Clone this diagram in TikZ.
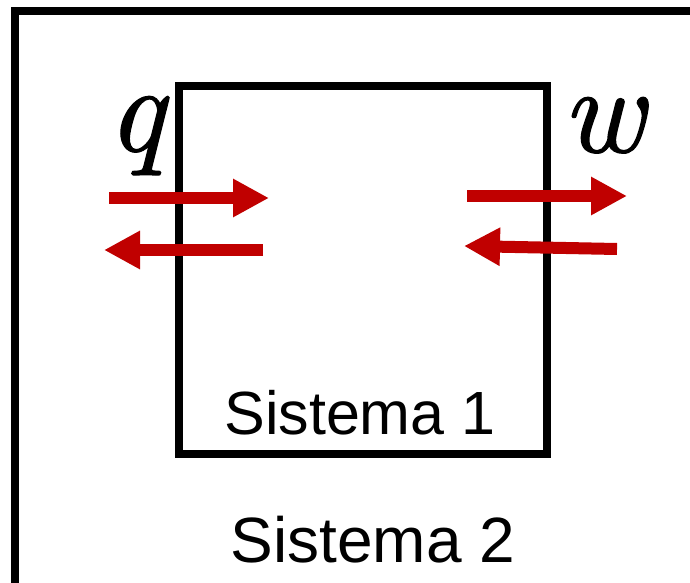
\documentclass[tikz,border=0pt]{standalone}
\usepackage{fontspec}
\setsansfont{Liberation Sans}
\newfontfamily\varfont{lmroman10-italic.otf}[FakeBold=1]
\usetikzlibrary{arrows.meta}
\definecolor{heatred}{HTML}{C00000}
\begin{document}
\begin{tikzpicture}[x=1pt,y=-1pt,
  wall/.style={draw=black,line width=7.5pt},
  flow/.style={draw=heatred,line width=12pt,
    -{Triangle[length=36pt,width=36pt]}},
  syslabel/.style={font=\sffamily,anchor=base,inner sep=0pt},
  varlabel/.style={font=\varfont\fontsize{124}{124}\selectfont,anchor=base,inner sep=0pt}]
  \useasboundingbox (0,0) rectangle (690,583);
  \begin{scope}
    \clip (0,0) rectangle (690,583);
    % surroundings (Sistema 2), running past the frame on two sides
    \draw[wall] (15,11) rectangle (700,587);
  \end{scope}
  % system boundary (Sistema 1)
  \draw[wall] (179,86) rectangle (547,454);

  % heat exchange across the left wall
  \coordinate (qinA) at (109,198);
  \coordinate (qinB) at (269,198);
  \coordinate (qoutA) at (263,250);
  \coordinate (qoutB) at (104,250);
  \draw[flow] (qinA) -- (qinB);
  \draw[flow] (qoutA) -- (qoutB);

  % work exchange across the right wall
  \coordinate (woutA) at (467,196);
  \coordinate (woutB) at (627,196);
  \coordinate (winA) at (617,249);
  \coordinate (winB) at (464,246);
  \draw[flow] (woutA) -- (woutB);
  \draw[flow] (winA) -- (winB);

  \node[varlabel] (q) at (136,151) {q};
  \node[varlabel] (w) at (603,152) {w};
  \node[syslabel,font=\sffamily\fontsize{61}{61}\selectfont] (s1) at (360,434) {Sistema 1};
  \node[syslabel,font=\sffamily\fontsize{64}{64}\selectfont] (s2) at (373,562) {Sistema 2};
\end{tikzpicture}
\end{document}
